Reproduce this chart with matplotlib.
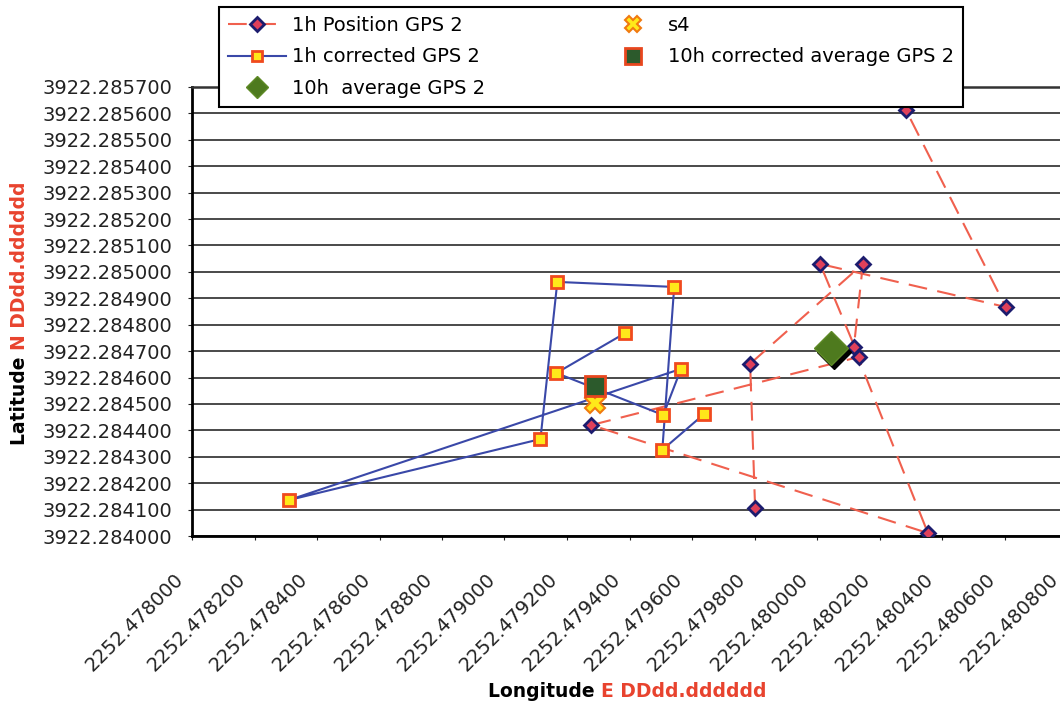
import matplotlib.pyplot as plt
from matplotlib.transforms import offset_copy, ScaledTranslation

plt.rcParams["font.family"] = "DejaVu Sans"

# 1h positions GPS 2, in the order the dashed line joins them
pos_lon = [2252.479802, 2252.479786, 2252.480147, 2252.480118, 2252.480355,
           2252.479278, 2252.480134, 2252.480010, 2252.480604, 2252.480284]
pos_lat = [3922.284106, 3922.284652, 3922.285030, 3922.284716, 3922.284011,
           3922.284420, 3922.284678, 3922.285030, 3922.284867, 3922.285614]

# 1h corrected GPS 2
corr_lon = [2252.479387, 2252.479166, 2252.479508, 2252.479565, 2252.478310,
            2252.479115, 2252.479169, 2252.479543, 2252.479505, 2252.479639]
corr_lat = [3922.284769, 3922.284617, 3922.284458, 3922.284633, 3922.284136,
            3922.284367, 3922.284962, 3922.284943, 3922.284326, 3922.284462]

# single points
s4_lon, s4_lat = [2252.479291], [3922.284504]
avg10_lon, avg10_lat = [2252.480046], [3922.284712]
corr10_lon, corr10_lat = [2252.479291], [3922.284568]

x_tick_labels = ["2252.478000", "2252.478200", "2252.478400", "2252.478600",
                 "2252.478800", "2252.479000", "2252.479200", "2252.479400",
                 "2252.479600", "2252.479800", "2252.480000", "2252.480200",
                 "2252.480400", "2252.480600", "2252.480800"]
y_tick_labels = ["3922.284000", "3922.284100", "3922.284200", "3922.284300",
                 "3922.284400", "3922.284500", "3922.284600", "3922.284700",
                 "3922.284800", "3922.284900", "3922.285000", "3922.285100",
                 "3922.285200", "3922.285300", "3922.285400", "3922.285500",
                 "3922.285600", "3922.285700"]

red_txt = "#E8432E"

fig = plt.figure(figsize=(10.6, 7.07), dpi=100)
ax = fig.add_axes([192 / 1060, 1 - 536 / 707, 875 / 1060, 449 / 707])

h_pos, = ax.plot(pos_lon, pos_lat, color="#F0604E", lw=1.5, dashes=(9, 5),
                 marker="D", ms=7, mfc="#E0405A", mec="#1C1C6E", mew=2,
                 label="1h Position GPS 2", zorder=3)
h_corr, = ax.plot(corr_lon, corr_lat, color="#3A48A8", lw=1.5,
                  marker="s", ms=8, mfc="#FFE81A", mec="#F04A1E", mew=2,
                  label="1h corrected GPS 2", zorder=4)
h_s4, = ax.plot(s4_lon, s4_lat, ls="none", marker="X", ms=14, mfc="#FFE81A",
                mec="#F07A10", mew=1.5, label="s4", zorder=5)
h_c10, = ax.plot(corr10_lon, corr10_lat, ls="none", marker="s", ms=14,
                 mfc="#2C5A2C", mec="#E8461E", mew=2,
                 label="10h corrected average GPS 2", zorder=6)
shadow = offset_copy(ax.transData, fig=fig, x=3, y=-4, units="dots")
ax.plot(avg10_lon, avg10_lat, ls="none", marker="D", ms=17, mfc="black",
        mec="black", transform=shadow, zorder=6)
h_a10, = ax.plot(avg10_lon, avg10_lat, ls="none", marker="D", ms=17,
                 mfc="#4E7A1E", mec="#5E8A26", mew=1,
                 label="10h  average GPS 2", zorder=7)

ax.set_xlim(2252.478, 2252.4808)
ax.set_ylim(3922.284, 3922.2857)
ax.set_xticks([float(s) for s in x_tick_labels], x_tick_labels, rotation=45,
              ha="right", va="center", rotation_mode="anchor")
ax.set_yticks([float(s) for s in y_tick_labels], y_tick_labels)
ax.tick_params(axis="x", length=3, pad=26, labelsize=14, colors="#222222")
ax.tick_params(axis="y", length=3, pad=11, labelsize=14, colors="#222222")
# nudge the slanted labels left so they end just before their tick
nudge = ScaledTranslation(-12 / 100, 0, fig.dpi_scale_trans)
for lbl in ax.get_xticklabels():
    lbl.set_transform(lbl.get_transform() + nudge)
ax.grid(axis="y", color="#3A3A3A", lw=1.3)
ax.set_axisbelow(True)
for side in ["left", "bottom"]:
    ax.spines[side].set_linewidth(2)
    ax.spines[side].set_color("black")
ax.spines["top"].set_linewidth(1.8)
ax.spines["top"].set_color("#333333")
ax.spines["right"].set_visible(False)

handles = [h_pos, h_corr, h_a10, h_s4, h_c10]
leg = fig.legend(handles, [h.get_label() for h in handles],
                 loc="upper left", bbox_to_anchor=(219 / 1060, 1 - 7 / 707),
                 borderaxespad=0, ncol=2, fontsize=14, frameon=True,
                 fancybox=False, edgecolor="black", framealpha=1,
                 handlelength=3, handletextpad=0.3, columnspacing=6.1,
                 labelspacing=0.65, borderpad=0.45)
leg.get_frame().set_linewidth(1.5)
for h, ms in zip(leg.legend_handles, [7, 7, 11, 12, 11]):
    h.set_markersize(ms)

# axis titles in two colours
t1 = fig.text(488 / 1060, 1 - 697 / 707, "Longitude ", fontsize=13.5,
              fontweight="bold", ha="left", va="baseline")
ax.annotate("E DDdd.dddddd", xy=(1, 0), xycoords=t1, ha="left", va="bottom",
            fontsize=13.5, fontweight="bold", color=red_txt)
t2 = fig.text(19.5 / 1060, 1 - 445 / 707, "Latitude ", fontsize=13.5,
              fontweight="bold", rotation=90, ha="center", va="bottom")
ax.annotate("N DDdd.dddddd", xy=(0.5, 1), xycoords=t2, ha="center",
            va="bottom", rotation=90, fontsize=13.5, fontweight="bold",
            color=red_txt)

plt.savefig("out.png", dpi=100)
